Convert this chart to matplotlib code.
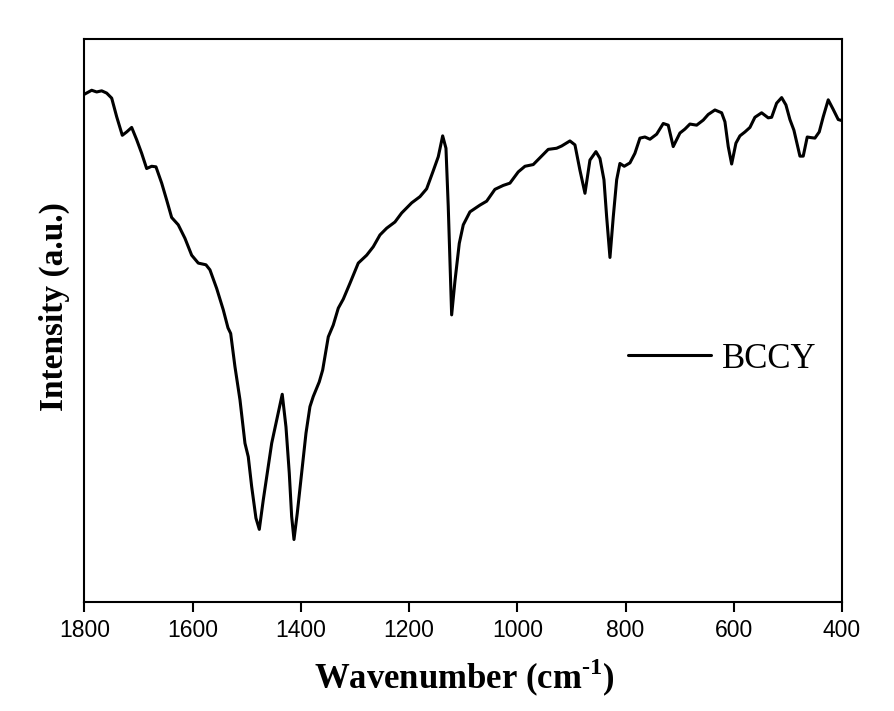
import matplotlib
matplotlib.use('Agg')
import matplotlib.pyplot as plt

plt.rcParams['mathtext.fontset'] = 'custom'
plt.rcParams['mathtext.rm'] = 'Liberation Serif:bold'
plt.rcParams['mathtext.bf'] = 'Liberation Serif:bold'

# FTIR spectrum (wavenumber in cm-1, intensity a.u.)
wavenumber = [1800, 1786.7, 1777.5, 1768.2, 1759.0, 1749.7, 1740.5, 1730.1, 1722.0, 1712.8,
              1703.5, 1694.3, 1685.1, 1675.8, 1667.9, 1657.3, 1648.1, 1638.9, 1626.7, 1614.3,
              1601.9, 1589.7, 1575.5, 1568.1, 1555.7, 1543.5, 1534.8, 1529.8, 1521.9, 1512.6,
              1503.4, 1497.3, 1491.0, 1483.1, 1476.9, 1469.6, 1462.2, 1454.0, 1444.8, 1434.5,
              1427.6, 1421.5, 1417.1, 1412.8, 1406.7, 1398.6, 1390.6, 1383.3, 1377.2, 1366.1,
              1359.8, 1349.4, 1340.2, 1330.9, 1321.7, 1309.4, 1294.0, 1278.5, 1266.3, 1253.9,
              1241.5, 1226.2, 1213.8, 1195.3, 1180.0, 1167.6, 1155.4, 1146.1, 1138.0, 1131.9,
              1127.7, 1124.5, 1121.4, 1115.3, 1107.3, 1099.9, 1087.6, 1078.3, 1069.1, 1056.7,
              1041.4, 1026.0, 1013.7, 998.3, 985.9, 970.6, 955.1, 942.9, 927.4, 918.1,
              902.8, 893.5, 884.3, 875.0, 865.8, 854.7, 847.3, 839.9, 834.9, 828.8,
              822.7, 816.4, 810.4, 802.4, 791.9, 782.7, 773.4, 764.2, 754.9, 742.5,
              730.3, 721.1, 711.9, 699.5, 690.3, 681.0, 668.6, 656.4, 647.2, 634.8,
              622.4, 616.3, 610.2, 603.9, 596.0, 588.6, 579.3, 570.1, 560.9, 548.5,
              536.3, 530.0, 520.8, 511.5, 503.6, 496.2, 488.8, 477.7, 471.6, 464.2,
              458.0, 450.0, 442.0, 434.6, 425.4, 416.2, 406.9, 400]
intensity = [90.2, 90.9, 90.6, 90.8, 90.4, 89.5, 86.2, 82.9, 83.5, 84.3,
             82.1, 79.7, 77.0, 77.4, 77.3, 74.4, 71.4, 68.3, 67.0, 64.6,
             61.6, 60.2, 59.9, 59.0, 55.7, 51.9, 48.7, 47.7, 41.8, 35.9,
             28.2, 25.8, 20.5, 14.9, 12.9, 18.1, 22.9, 28.2, 32.3, 36.9,
             31.1, 22.9, 15.2, 11.1, 15.8, 22.9, 30.0, 34.7, 36.5, 39.1,
             41.2, 47.1, 49.2, 52.2, 53.8, 56.6, 60.2, 61.6, 63.1, 65.2,
             66.4, 67.5, 69.1, 70.9, 72.0, 73.4, 76.6, 79.1, 82.8, 80.6,
             70.3, 60.2, 51.0, 57.0, 63.7, 67.0, 69.3, 69.9, 70.5, 71.2,
             73.3, 74.0, 74.4, 76.4, 77.4, 77.7, 79.2, 80.4, 80.6, 81.0,
             81.9, 81.2, 76.7, 72.6, 78.5, 80.0, 78.8, 75.0, 68.4, 61.2,
             68.4, 75.0, 77.9, 77.4, 78.0, 79.7, 82.4, 82.6, 82.2, 83.1,
             85.0, 84.7, 80.9, 83.3, 84.0, 84.9, 84.7, 85.6, 86.6, 87.4,
             86.9, 85.3, 80.9, 77.8, 81.5, 82.8, 83.5, 84.3, 86.1, 86.9,
             86.0, 86.1, 88.6, 89.6, 88.3, 85.7, 83.8, 79.2, 79.2, 82.6,
             82.5, 82.4, 83.5, 86.2, 89.2, 87.5, 85.7, 85.5]
xticks = [1800, 1600, 1400, 1200, 1000, 800, 600, 400]

fig = plt.figure(figsize=(8.94, 7.11), dpi=100)
ax = fig.add_axes([0.0945, 0.1533, 0.8473, 0.7918])

ax.plot(wavenumber, intensity, color='black', linewidth=2.2, label='BCCY',
        solid_joinstyle='round', solid_capstyle='round')

ax.set_xlim(1800, 400)
ax.set_ylim(0, 100)
ax.set_xticks(xticks)
ax.set_xticklabels([str(t) for t in xticks], fontfamily='Liberation Sans', fontsize=16.5)
ax.set_yticks([])
ax.tick_params(axis='x', direction='out', length=7, width=1.5, pad=5)
for s in ax.spines.values():
    s.set_linewidth(1.5)

ax.set_xlabel(r'Wavenumber (cm$^{\text{-1}}$)', fontfamily='Liberation Serif',
              fontweight='bold', fontsize=25)
ax.xaxis.set_label_coords(0.502, -0.098)
ax.set_ylabel('Intensity (a.u.)', fontfamily='Liberation Serif',
              fontweight='bold', fontsize=24)
ax.yaxis.set_label_coords(-0.019, 0.525)

ax.legend(loc='center left', bbox_to_anchor=(0.7175, 0.4316), frameon=False,
          prop={'family': 'Liberation Serif', 'size': 25},
          handlelength=2.4, handletextpad=0.3, borderpad=0, borderaxespad=0)

fig.savefig('out.png', dpi=100)
